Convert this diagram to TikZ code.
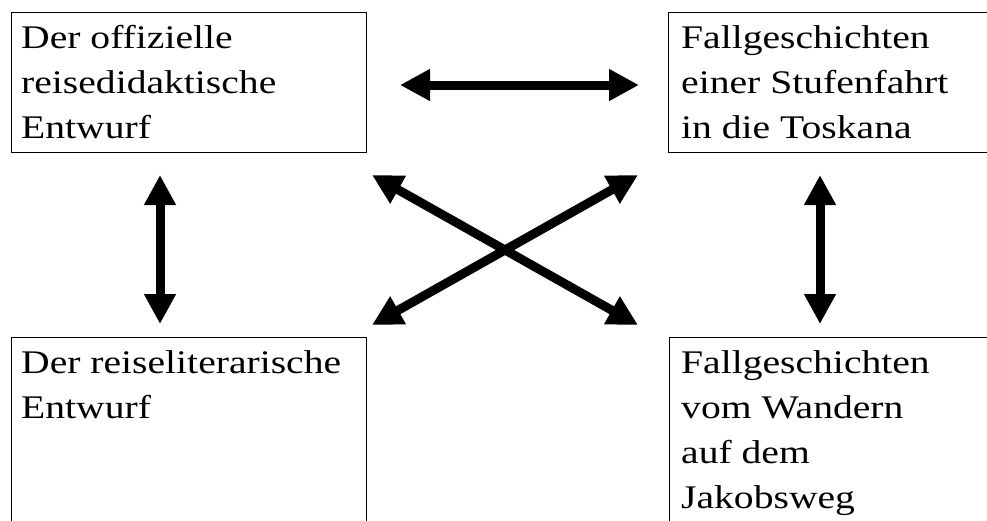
\documentclass[tikz,border=0pt]{standalone}
\usepackage{fontspec}
\setmainfont[FakeStretch=1.2]{Liberation Serif}
\usetikzlibrary{arrows.meta}

\tikzset{
  panel/.style={draw=black, line width=1.1pt, inner sep=0pt, anchor=north west},
  paneltext/.style={anchor=north west, inner sep=0pt, align=left,
    font=\fontsize{33}{45}\selectfont},
  link/.style={line width=9pt,
    {Triangle[length=30pt,width=30pt]}-{Triangle[length=30pt,width=30pt]}}
}

\begin{document}
\begin{tikzpicture}[x=1pt,y=-1pt]
  \useasboundingbox (0,0) rectangle (987,520);
  \clip (0,0) rectangle (987,520);

  % the four panels
  \node[panel, minimum width=355pt, minimum height=140pt] (tl) at (11,12) {};
  \node[panel, minimum width=340pt, minimum height=140pt] (tr) at (668,12) {};
  \node[panel, minimum width=355pt, minimum height=200pt] (bl) at (11,337) {};
  \node[panel, minimum width=340pt, minimum height=200pt] (br) at (669,337) {};

  % panel texts
  \node[paneltext] (tltext) at (21,17) {\strut Der offizielle\\reisedidaktische\\Entwurf};
  \node[paneltext] (trtext) at (681,16.5) {\strut Fallgeschichten\\einer Stufenfahrt\\in die Toskana};
  \node[paneltext] (bltext) at (21,341.5) {\strut Der reiseliterarische\\Entwurf};
  \node[paneltext] (brtext) at (681,341.5) {\strut Fallgeschichten\\vom Wandern\\auf dem\\Jakobsweg};

  % arrow end points
  \coordinate (hl) at (400,85);
  \coordinate (hr) at (639,85);
  \coordinate (vlt) at (160,175);
  \coordinate (vlb) at (160,324);
  \coordinate (vrt) at (820,175);
  \coordinate (vrb) at (820,324);
  \coordinate (xtl) at (372,175);
  \coordinate (xtr) at (638,175);
  \coordinate (xbl) at (372,325);
  \coordinate (xbr) at (638,325);

  % double-headed links
  \draw[link] (hl) -- (hr);
  \draw[link] (vlt) -- (vlb);
  \draw[link] (vrt) -- (vrb);
  \draw[link] (xtl) -- (xbr);
  \draw[link] (xtr) -- (xbl);
\end{tikzpicture}
\end{document}
